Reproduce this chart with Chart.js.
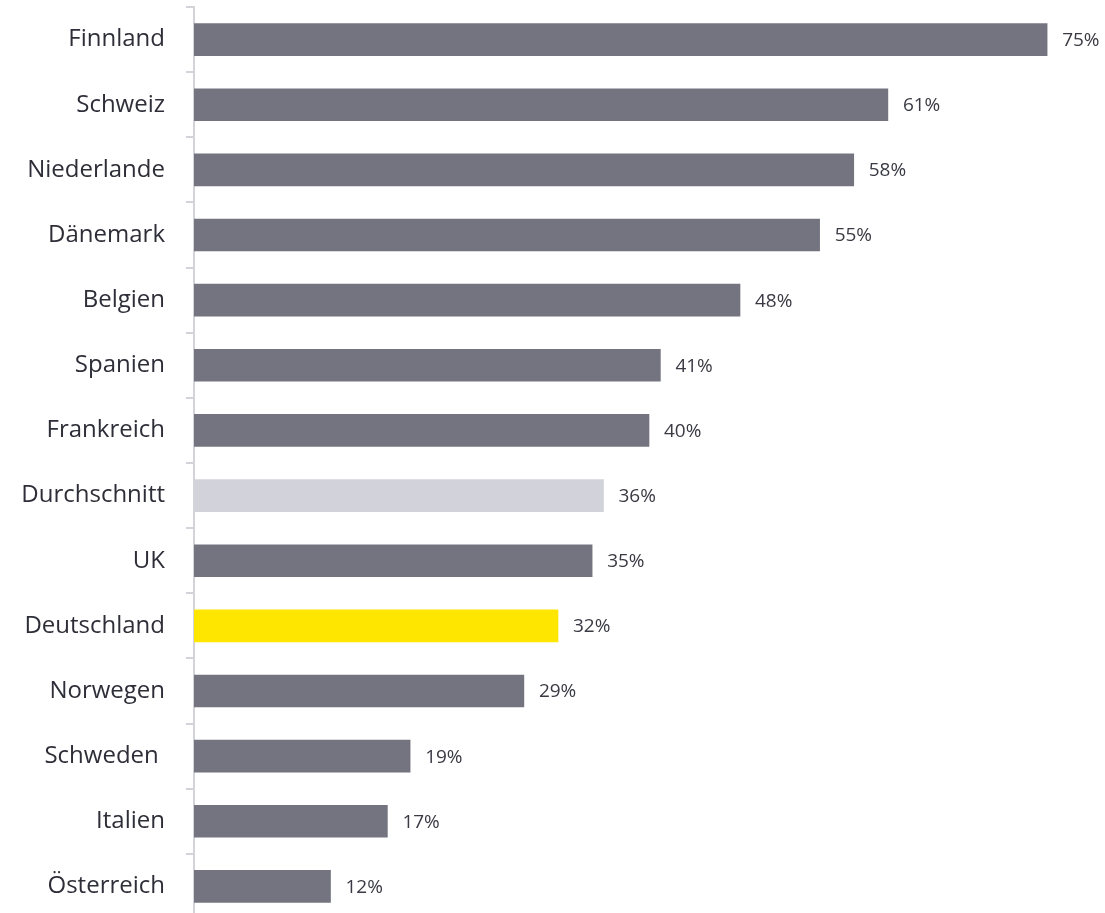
<!DOCTYPE html>
<html>
<head>
<meta charset="utf-8">
<script src="https://cdn.jsdelivr.net/npm/chart.js@4/dist/chart.umd.min.js"></script>
<style>
  html, body { margin: 0; padding: 0; background: #ffffff; overflow: hidden; }
  #wrap { position: relative; width: 1105px; height: 919px; }
</style>
</head>
<body>
<div id="wrap"><canvas id="c"></canvas></div>
<script>
// Share by country (percent), sorted descending
const countries = ['Finnland', 'Schweiz', 'Niederlande', 'Dänemark', 'Belgien', 'Spanien', 'Frankreich',
  'Durchschnitt', 'UK', 'Deutschland', 'Norwegen', 'Schweden ', 'Italien', 'Österreich'];
const shares = [75, 61, 58, 55, 48, 41, 40, 36, 35, 32, 29, 19, 17, 12];

const GREY = '#747480';
const AVERAGE = '#d2d2da';
const HIGHLIGHT = '#ffe600';
const barColors = countries.map(c =>
  c === 'Durchschnitt' ? AVERAGE : (c === 'Deutschland' ? HIGHLIGHT : GREY));

// Writes "NN%" to the right of each bar
const valueLabels = {
  id: 'valueLabels',
  afterDatasetsDraw(chart) {
    const ctx = chart.ctx;
    const meta = chart.getDatasetMeta(0);
    ctx.save();
    ctx.font = '19px "Open Sans", sans-serif';
    ctx.fillStyle = '#3a3a44';
    ctx.textAlign = 'left';
    ctx.textBaseline = 'middle';
    meta.data.forEach((bar, i) => {
      ctx.fillText(shares[i] + '%', bar.x + 15, bar.y + 1);
    });
    ctx.restore();
  }
};

new Chart(document.getElementById('c'), {
  type: 'bar',
  data: {
    labels: countries,
    datasets: [{
      data: shares,
      backgroundColor: barColors,
      borderWidth: 0,
      barThickness: 32
    }]
  },
  options: {
    indexAxis: 'y',
    responsive: true,
    maintainAspectRatio: false,
    animation: false,
    layout: { padding: { top: 7, right: 1, bottom: 0, left: 0 } },
    plugins: {
      legend: { display: false },
      tooltip: { enabled: false }
    },
    scales: {
      x: {
        display: false,
        min: 0,
        max: 80
      },
      y: {
        afterFit(scale) {
          scale.width = 194;
          scale.paddingTop = 0;
          scale.paddingBottom = 0;
        },
        border: { display: true, color: '#d3d3d9', width: 2 },
        grid: {
          offset: true,
          drawOnChartArea: false,
          drawTicks: true,
          tickLength: 8,
          color: '#d3d3d9',
          lineWidth: 2
        },
        ticks: {
          padding: 21,
          color: '#2e2e38',
          font: { family: '"Open Sans", sans-serif', size: 24 }
        }
      }
    }
  },
  plugins: [valueLabels]
});
</script>
</body>
</html>
